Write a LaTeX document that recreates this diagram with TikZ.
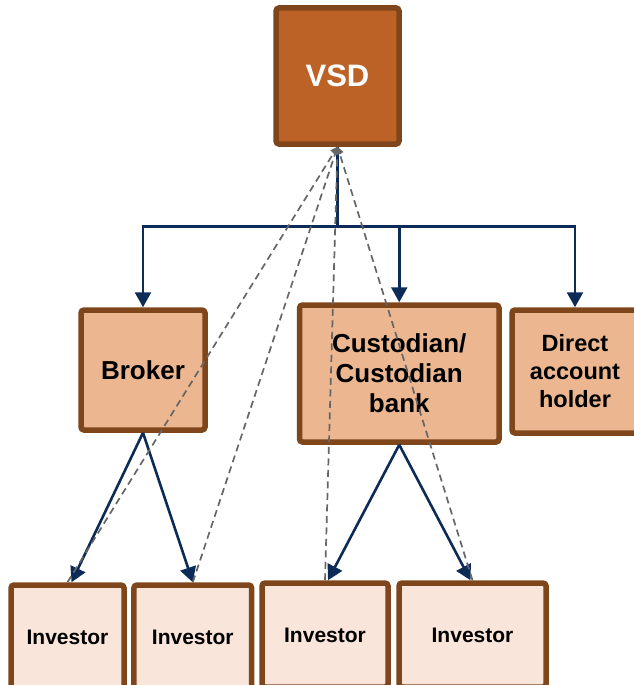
\documentclass[tikz,border=0pt]{standalone}
\usepackage{fontspec}
\setmainfont{Liberation Sans}
\usetikzlibrary{arrows.meta}

\definecolor{vsdfill}{HTML}{BD6226}
\definecolor{midfill}{HTML}{EBB690}
\definecolor{lowfill}{HTML}{F9E5D9}
\definecolor{boxline}{HTML}{7F461B}
\definecolor{navy}{HTML}{0D2B57}
\definecolor{dashgray}{HTML}{666666}

\tikzset{
  box/.style={draw=boxline,line width=5.5pt,rounded corners=3pt,inner sep=0pt,align=center,font=\bfseries},
  link/.style={draw=navy,line width=2.6pt,-{Triangle[width=16pt,length=15pt]}},
  dashlink/.style={draw=dashgray,line width=1.7pt,dash pattern=on 7pt off 4.5pt,-{Triangle[width=8pt,length=7pt]}}
}

\begin{document}
\begin{tikzpicture}[x=1pt,y=1pt,yscale=-1,xscale=1]
\clip (0,0) rectangle (634,685); %set diagram size 634 x 685

%Shape: Rectangle [top]
\node [box,fill=vsdfill,text=white,minimum width=123,minimum height=136,font=\bfseries\fontsize{31}{36}\selectfont] (vsd) at (337.5,76) {VSD};

%Shape: Rectangle [middle row]
\node [box,fill=midfill,minimum width=124,minimum height=120,font=\bfseries\fontsize{26}{30}\selectfont] (broker) at (143,370) {\raisebox{-3pt}{Broker}};
\node [box,fill=midfill,minimum width=199.5,minimum height=137,font=\bfseries\fontsize{26}{30}\selectfont] (custodian) at (399.25,373.5) {Custodian/\\Custodian\\bank};
\node [box,fill=midfill,minimum width=126,minimum height=123,font=\bfseries\fontsize{23.5}{28}\selectfont] (direct) at (575,371.5) {Direct\\account\\holder};

%Shape: Rectangle [bottom row]
\node [box,fill=lowfill,minimum width=113,minimum height=104,font=\bfseries\fontsize{21}{25}\selectfont] (inv1) at (67.5,637) {Investor};
\node [box,fill=lowfill,minimum width=117.7,minimum height=104,font=\bfseries\fontsize{21}{25}\selectfont] (inv2) at (192.8,637) {Investor};
\node [box,fill=lowfill,minimum width=126,minimum height=104,font=\bfseries\fontsize{21}{25}\selectfont] (inv3) at (325,635) {Investor};
\node [box,fill=lowfill,minimum width=147,minimum height=104,font=\bfseries\fontsize{21}{25}\selectfont] (inv4) at (472.5,635) {Investor};

%Straight Lines [tree]
\draw [link] (vsd.south) -- ++(0,80) -| (broker.north);
\draw [link] (vsd.south) -- ++(0,80) -| (custodian.north);
\draw [link] (vsd.south) -- ++(0,80) -| (direct.north);
\draw [link] (broker.south) -- ([xshift=4]inv1.north);
\draw [link] (broker.south) -- (inv2.north);
\draw [link] (custodian.south) -- ([xshift=3]inv3.north);
\draw [link] (custodian.south) -- ([xshift=-2]inv4.north);

%Straight Lines [dashed, back to top]
\draw [dashlink] (inv1.north) -- (vsd.south);
\draw [dashlink] (inv2.north) -- (vsd.south);
\draw [dashlink] (inv3.north) -- (vsd.south);
\draw [dashlink] (inv4.north) -- (vsd.south);

\end{tikzpicture}
\end{document}
